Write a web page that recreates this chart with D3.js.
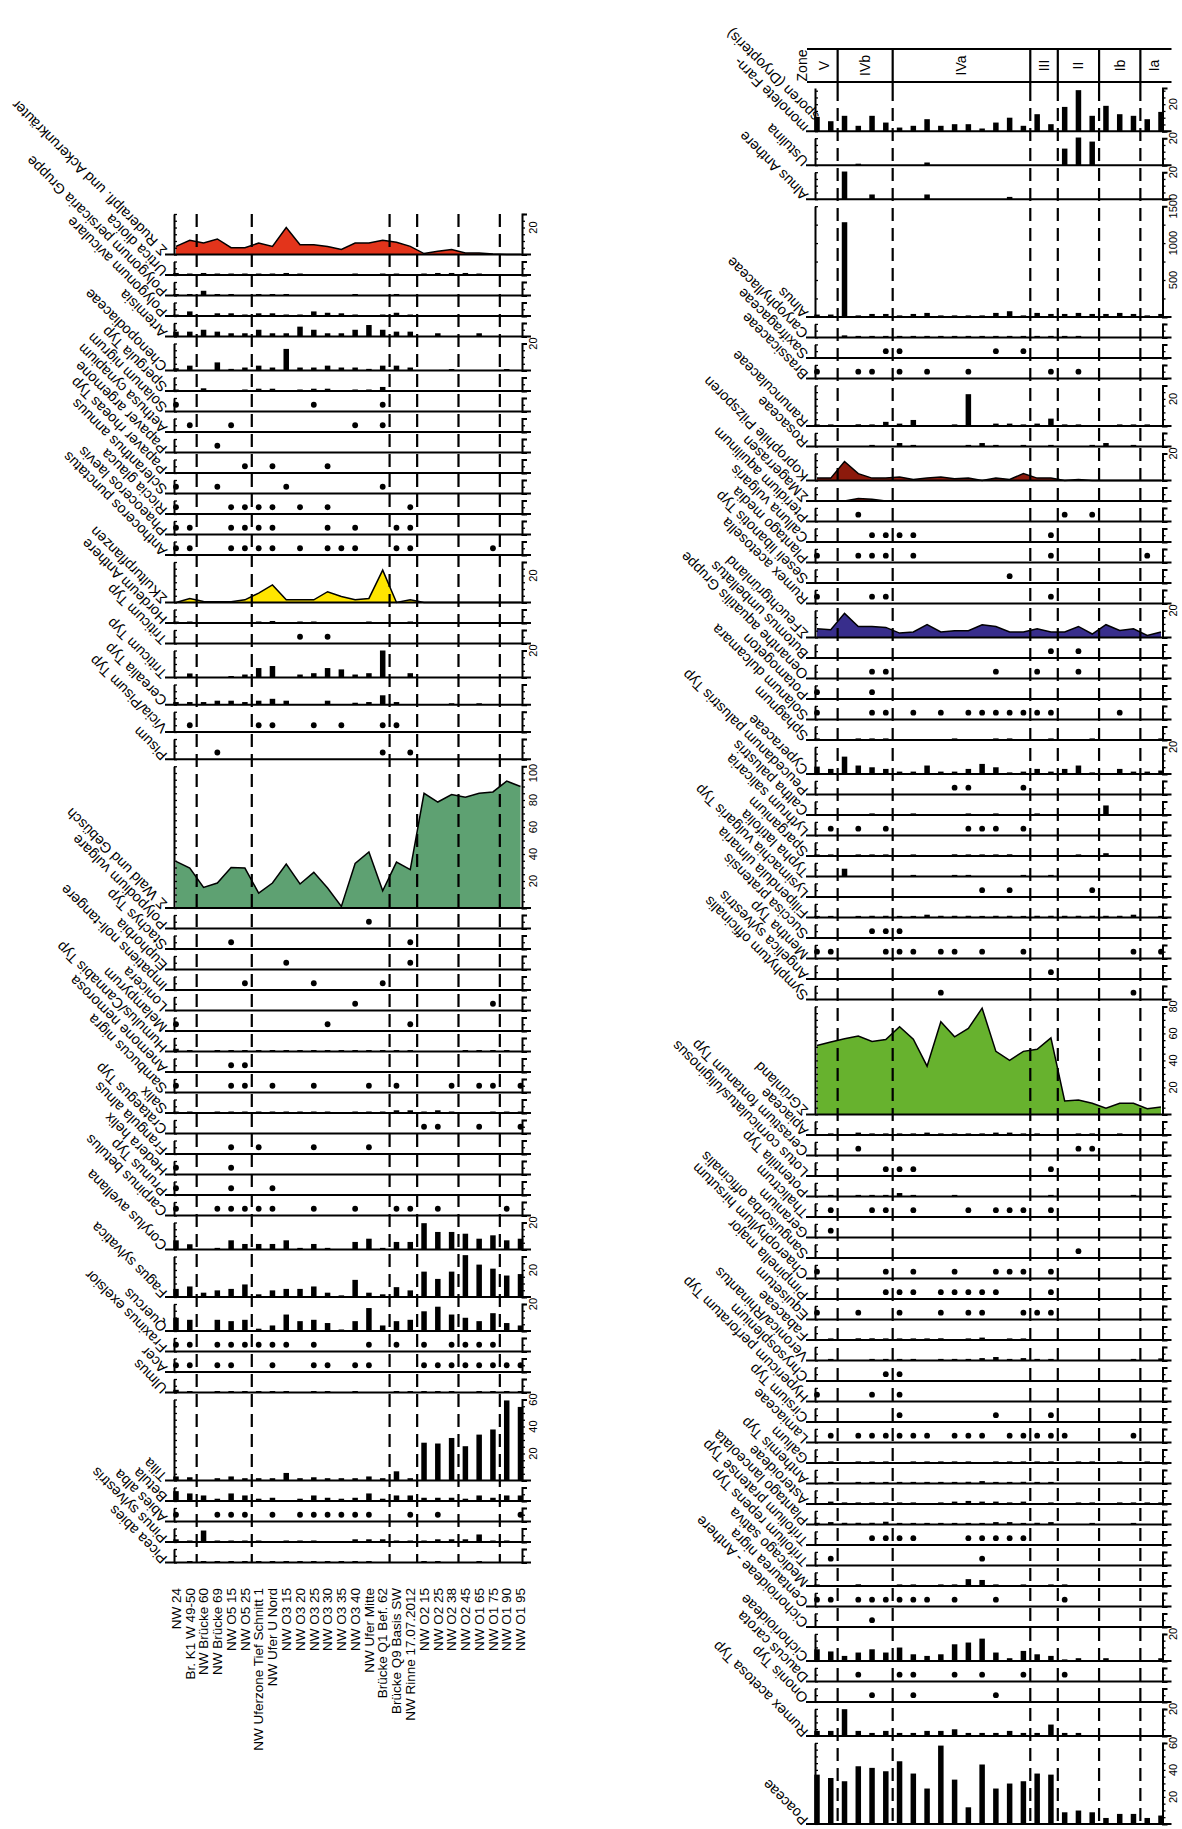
<!DOCTYPE html>
<html>
<head>
<meta charset="utf-8">
<script src="https://cdn.jsdelivr.net/npm/d3@7"></script>
<style>
  body { margin: 0; background: #fff; }
  text { font-family: "Liberation Sans", Arial, sans-serif; fill: #000; }
  .ax path, .ax line { stroke: #000; }
  .ax path { stroke-width: 2; }
  .ax line { stroke-width: 1.3; }
</style>
</head>
<body>
<svg id="chart"></svg>
<script>
// samples (same order in both panels)
var samples = ["NW 24", "Br. K1 W 49-50", "NW Brücke 60", "NW Brücke 69", "NW O5 15", "NW O5 25",
  "NW Uferzone Tief Schnitt 1", "NW Ufer U Nord", "NW O3 15", "NW O3 20", "NW O3 25", "NW O3 30",
  "NW O3 35", "NW O3 40", "NW Ufer Mitte", "Brücke Q1 Bef. 62", "Brücke Q9 Basis SW", "NW Rinne 17.07.2012",
  "NW O2 15", "NW O2 25", "NW O2 38", "NW O2 45", "NW O1 65", "NW O1 75", "NW O1 90", "NW O1 95"];

var zoneNames = ["V", "IVb", "IVa", "III", "II", "Ib", "Ia"];
var zoneFirst = [0, 2, 6, 16, 18, 21, 24];   // first sample of each zone

// ---- left diagram ----
// kinds: a = area, b = bars, d = dots (values for d = sample indices)
var leftNames = ["Σ Ruderalpfl. und Ackerunkräuter", "Urtica dioica", "Polygonum persicaria Gruppe",
  "Polygonum aviculare", "Artemisia", "Chenopodiaceae", "Spergula Typ", "Solanum nigrum",
  "Aethusa cynapium", "Papaver argemone", "Papaver rhoeas Typ", "Scleranthus annuus", "Riccia glauca",
  "Phaeoceros laevis", "Anthoceros punctatus", "ΣKulturpflanzen", "Hordeum Anthere", "Triticum Typ",
  "Triticum Typ", "Cerealia Typ", "Vicia/Pisum Typ", "Pisum", "Σ Wald und Gebüsch", "Polypodium vulgare",
  "Stachys Typ", "Euphorbia", "Impatiens noli-tangere", "Lonicera", "Melampyrum", "Humulus/Cannabis Typ",
  "Anemone nemorosa", "Sambucus nigra", "Salix", "Crataegus Typ", "Frangula alnus", "Hedera helix",
  "Prunus Typ", "Carpinus betulus", "Corylus avellana", "Fagus sylvatica", "Quercus", "Fraxinus exelsior",
  "Acer", "Ulmus", "Tilia", "Betula", "Abies alba", "Pinus sylvestris", "Picea abies"];

var leftKinds = ["a", "b", "b", "b", "b", "b", "b", "d", "d", "d", "d", "d", "d", "d", "d",
  "a", "b", "d", "b", "b", "d", "d", "a", "d", "d", "d", "d", "d", "d", "b", "d", "d", "b",
  "d", "d", "d", "d", "d", "b", "b", "b", "d", "d", "b", "b", "b", "d", "b", "b"];

var leftMax = [30, 10, 10, 10, 10, 20, 10, 10, 10, 10, 10, 10, 10, 10, 10,
  30, 10, 10, 20, 15, 15, 15, 105, 10, 10, 10, 10, 10, 10, 10, 10, 10, 10,
  10, 10, 10, 10, 10, 20, 30, 20, 10, 10, 10, 60, 10, 10, 10, 10];

var leftValues = [
  [6, 10.5, 8.5, 11.5, 5, 5, 8.5, 6, 20, 7.3, 7.3, 6, 3.7, 8.5, 8.5, 10.5, 9, 6, 0.7, 2.4, 3.7, 1.2, 1.2, 0.3, 0, 0],
  [1.5, 0.4, 1.5, 0.4, 0.4, 0.4, 0.4, 0.4, 1.5, 0.4, 0, 0, 0, 0.4, 0, 0.4, 0.4, 0, 0.4, 1.5, 1.5, 1.5, 0.4, 0, 0, 0],
  [0.4, 0.4, 3.5, 0.4, 0.4, 0, 0.4, 0.4, 0.4, 0, 0, 0, 0, 0.4, 0, 0, 0.4, 0, 0, 0, 0, 0, 0, 0, 0, 0],
  [1, 3.4, 0, 2, 2, 1, 2, 2, 1, 1, 3.4, 2.4, 2, 1, 0, 1, 2.4, 1, 0, 0, 0, 0, 0, 0, 0, 0],
  [3.6, 3.6, 5, 3.6, 2.4, 2.4, 5, 2.4, 2.4, 7.3, 5, 2.4, 2.4, 5, 8.5, 5, 3.6, 3.6, 0, 2.4, 0, 0, 2.4, 0, 0, 0],
  [1.7, 3.6, 0, 6, 1.2, 2.2, 3.6, 2.2, 16, 2.2, 2.2, 3.6, 2.2, 2.2, 1.2, 3.6, 3.6, 2.2, 0, 0, 0.7, 0, 0, 0, 0.7, 0],
  [1, 0, 2, 0, 0, 0.4, 1.7, 1.7, 0, 0.4, 1.7, 1.7, 0, 0.4, 0.4, 3, 0, 0, 0, 0, 0, 0, 0, 0, 0, 0],
  [0, 10, 15],
  [1, 4, 13, 15],
  [3],
  [5, 7, 11],
  [0, 3, 8, 15],
  [0, 4, 5, 6, 7, 9, 11, 17],
  [0, 1, 4, 5, 6, 7, 11, 13, 16, 17],
  [0, 1, 4, 5, 6, 7, 9, 11, 12, 13, 16, 17, 23],
  [0, 3, 0.7, 0.5, 0.5, 2, 7, 13, 2, 2, 2, 8, 4.4, 2, 3, 24, 0, 2, 0, 0, 0, 0, 0, 0, 0, 0],
  [0.4, 0.4, 0, 0, 0, 0, 0.4, 1.5, 0, 0.4, 0.4, 0, 0, 0, 0.4, 0, 0, 0.4, 0, 0, 0, 0, 0, 0, 0, 0],
  [9, 11],
  [0, 3, 0, 0, 0.5, 2.2, 7, 8.5, 0, 2.2, 3.2, 7, 6, 2.2, 3.2, 20, 0, 3.2, 0, 0, 0, 0, 0, 0, 0, 0],
  [2, 2, 2, 3, 3, 2, 3, 4.4, 3, 0, 0, 3, 0, 1.5, 2, 7, 2, 0, 0, 0, 0.5, 0, 0.5, 0, 0, 0],
  [1, 6, 7, 10, 12, 15, 16],
  [3, 15, 17],
  [34.5, 29.6, 15.3, 18.5, 30, 29.6, 11, 18.5, 32.6, 17.8, 26.4, 14.8, 1.2, 33, 41.5, 12.8, 34, 28.4, 85, 78.5, 84, 82, 85, 86, 94, 90],
  [14],
  [4, 17],
  [8, 17],
  [5, 10, 15],
  [13, 23],
  [0, 11, 17],
  [2, 1, 0, 0.4, 1, 1, 0.4, 1, 1, 1, 1, 0.4, 0.4, 1, 1, 1, 1, 1, 0, 0, 0, 1, 1, 1, 1, 0],
  [4, 5],
  [0, 4, 5, 7, 10, 14, 16, 20, 22, 23, 25],
  [1, 1, 0, 1, 1, 1, 1, 1, 1, 1, 1, 1, 0, 1, 1, 1, 2, 2, 1, 2, 1, 0, 0, 1, 1, 1],
  [18, 19, 22, 25],
  [4, 6, 10, 14],
  [0, 4],
  [0, 4, 7],
  [0, 3, 4, 5, 6, 7, 10, 13, 16, 17, 19, 24],
  [6.8, 3.9, 0, 1.2, 6.8, 4.1, 4.1, 4.1, 6.8, 1.2, 4.1, 1.2, 0, 5.6, 8, 1.2, 5.6, 5.6, 19.5, 13, 13, 11.7, 8, 10.5, 6.8, 8],
  [6, 7.8, 3.2, 4.9, 6, 9.3, 2, 4.9, 6, 6, 7.8, 3.2, 1.2, 12.7, 3.2, 2, 7.3, 4.9, 18.8, 13.4, 18.8, 31, 24, 21, 15.9, 17],
  [9.8, 8.3, 0, 8.3, 7.3, 8.3, 1.7, 4.1, 12.2, 7.3, 8.3, 5.9, 1, 7.3, 17, 4.1, 7.3, 8.3, 14.6, 18, 12.2, 9.8, 7.3, 13.2, 5.9, 4.1],
  [0, 1, 3, 4, 5, 6, 7, 8, 10, 14, 16, 18, 20, 21, 22, 23],
  [0, 1, 3, 4, 7, 10, 11, 13, 14, 18, 19, 20, 21, 22, 23, 24, 25],
  [2, 0.5, 0, 0.5, 0.5, 0.5, 0.5, 0.5, 1, 0, 0.5, 1, 0, 0.5, 0, 0, 0.5, 0.5, 1, 1, 1, 0, 1, 0.5, 1, 0.5],
  [3, 2.4, 0, 1.7, 3, 1.7, 1.7, 1.7, 5.6, 1.7, 2.4, 1.7, 1.7, 1.7, 3, 1.7, 6.8, 1.7, 28, 27.4, 31.5, 25.4, 34, 37.8, 59.3, 54.5],
  [7.3, 5.6, 4.1, 1.7, 5.6, 4.1, 1.7, 2.4, 0, 1.7, 4.1, 2.4, 1.7, 2.4, 5.6, 1.7, 4.1, 4.1, 2.4, 2.4, 2.4, 1.7, 4.1, 2.4, 4.1, 4.1],
  [0, 3, 4, 5, 7, 9, 10, 11, 12, 13, 14, 17, 19, 25],
  [2, 0.7, 8.5, 0.7, 0.7, 0.7, 0.7, 0, 0.7, 0.7, 0.7, 0, 0, 2, 2, 2, 0.7, 0.7, 0.7, 2, 2, 2, 5.6, 0.7, 0.7, 0],
  [0, 0.4, 0.4, 0.4, 0.4, 0.4, 0.4, 0.4, 0.4, 0.4, 0.4, 0.4, 0.4, 0.4, 0.4, 0, 0, 0, 0.4, 0.4, 0, 0, 0.4, 0, 0, 0]
];

// ---- right diagram ----
var rightNames = ["monolete Farn-\nsporen (Dryopteris)", "Ustulina", "Alnus Anthere", "Alnus",
  "Caryophyllaceae", "Saxifragaceae", "Brassicaceae", "Ranunculaceae", "Rosaceae",
  "Koprophile Pilzsporen", "ΣMagerrasen", "Pteridium aquilinum", "Calluna vulgaris", "Plantago media",
  "Seseli libanotis Typ", "Rumex acetosella", "ΣFeuchtgrünland", "Butomus umbellatus",
  "Oenanthe aquatilis Gruppe", "Potamogeton", "Solanum dulcamara", "Sphagnum", "Cyperaceae",
  "Peucedanum palustris Typ", "Caltha palustris", "Lythrum salicaria", "Sparganium", "Typha latifolia",
  "Lysimachia vulgaris Typ", "Filipendula ulmaria", "Succisa pratensis", "Mentha Typ",
  "Angelica sylvestris", "Symphytum officinalis", "ΣGrünland", "Apiaceae", "Cerastium fontanum Typ",
  "Lotus corniculatus/uliginosus", "Potentilla Typ", "Thalictrum", "Geranium", "Sanguisorba officinalis",
  "Chaerophyllum hirsutum", "Pimpinella major", "Equisetum", "Fabaceae", "Veronica/Rhinantus",
  "Chrysosplenium", "Hypericum perforatum Typ", "Cirsium Typ", "Lamiaceae", "Galium", "Anthemis Typ",
  "Asteroideae", "Plantago lanceolata", "Trifolium pratense Typ", "Trifolium repens Typ",
  "Medicago sativa", "Centaurea nigra", "Cichorioideae - Anthere", "Cichorioideae", "Daucus carota",
  "Ononis Typ", "Rumex acetosa Typ", "Poaceae"];

var rightKinds = ["b", "b", "b", "b", "b", "d", "d", "b", "b", "a", "a", "d", "d", "d", "d", "d",
  "a", "d", "d", "d", "d", "b", "b", "d", "b", "d", "b", "b", "d", "b", "d", "d", "d", "d",
  "a", "b", "d", "d", "b", "d", "d", "d", "d", "d", "d", "b", "b", "d", "d", "d", "d",
  "b", "b", "b", "b", "d", "d", "b", "d", "d", "b", "d", "d", "b", "b"];

var rightMax = [32, 20, 20, 1500, 10, 10, 10, 30, 10, 20, 10, 10, 10, 10, 10, 10,
  20, 10, 10, 10, 10, 10, 20, 10, 10, 10, 10, 10, 10, 10, 10, 10, 10, 10,
  80, 10, 10, 10, 10, 10, 10, 10, 10, 10, 10, 10, 10, 10, 10, 10, 10,
  10, 10, 10, 10, 10, 10, 10, 10, 10, 20, 10, 10, 20, 60];

var rightValues = [
  [10.6, 7.4, 11.4, 4, 11.4, 6.4, 2.7, 4, 8.9, 4, 5.2, 5.2, 2, 6.4, 10, 4, 12.6, 5.2, 18, 30.4, 11.4, 18.8, 12.6, 11.4, 8.9, 14.3],
  [0, 0, 0, 0.7, 0, 0, 0, 0, 2, 0, 0, 0, 0, 0, 0, 0, 0, 0, 12.3, 20.5, 17.5, 0, 0, 0, 0, 0],
  [0, 0, 20.5, 0, 3.5, 0, 0, 0, 3.5, 0, 0, 0, 0, 0, 1.7, 0, 0, 0, 0, 0, 0, 0, 0, 0, 0, 0],
  [32, 32, 1283, 18, 40, 40, 18, 40, 54, 18, 18, 18, 18, 54, 77, 18, 54, 40, 40, 54, 40, 40, 54, 40, 18, 40],
  [0, 0, 1.5, 0.4, 0.4, 0.4, 0.4, 0.4, 0.4, 0.4, 0.4, 0.4, 0.4, 0.4, 0.4, 0.4, 0.4, 0.4, 0.4, 0.4, 0, 0, 0, 0, 0, 0],
  [5, 6, 13, 15],
  [0, 3, 4, 6, 8, 11, 17, 19],
  [0.7, 0.7, 0, 1.2, 0.7, 3, 1.7, 4.4, 0, 0, 0.7, 23.5, 0, 1.7, 1.7, 0.7, 1.7, 5.4, 0.7, 0.7, 0, 0, 0.7, 0.7, 0.7, 0],
  [0, 0, 0, 0, 0.7, 0, 2.5, 0.7, 0, 0, 0, 0.7, 2.5, 0.7, 0, 0.7, 0, 0.7, 0, 0, 0.7, 2.5, 0, 0.7, 0, 0],
  [1.7, 1.7, 14, 5, 1.7, 1.7, 2.5, 0.7, 1.7, 2.5, 1.2, 1.7, 0, 1.7, 0.7, 5, 1.7, 1.7, 0, 0.7, 0, 0, 0, 0, 0, 0],
  [0, 0, 0, 1.7, 1.2, 0, 0, 0, 0, 0, 0, 0, 0, 0, 0, 0, 0, 0, 0, 0, 0, 0, 0, 0, 0, 0],
  [3, 18, 20],
  [4, 5, 6, 7, 17],
  [0, 3, 4, 5, 7, 17, 24],
  [14],
  [0, 4, 5, 17],
  [6.4, 5.7, 17.8, 8.1, 8.1, 7.4, 3.2, 4, 9.4, 4, 4.9, 4.9, 9.4, 8.1, 4, 4, 6.4, 4, 4, 8.1, 2.5, 9.4, 5.2, 6.4, 1.5, 4],
  [17, 19],
  [4, 5, 13, 16, 19],
  [0, 4],
  [0, 4, 5, 7, 9, 11, 12, 13, 14, 15, 16, 17, 22],
  [0.4, 0, 0, 0.4, 0.4, 0.4, 0, 0, 0, 0, 0.4, 0, 0, 0.4, 0.4, 0, 0, 0.4, 0, 0, 0.4, 0, 0, 0, 0, 0.4],
  [5.4, 3.7, 12.8, 6.2, 4.9, 3.7, 1.7, 1.7, 6.2, 1.7, 1.7, 3.7, 7.4, 4.9, 0.5, 1.7, 3.7, 1.7, 3.7, 6.2, 0.5, 0, 3.7, 1.7, 1.7, 2.5],
  [10, 11, 15],
  [0, 0, 0, 0, 0.4, 0, 0, 0.4, 0, 0, 0, 0.4, 0, 0.4, 0, 0, 0.4, 0, 0, 0, 0, 7, 0, 0, 0, 0],
  [1, 3, 5, 11, 12, 13, 15],
  [0.4, 0.4, 0, 0.4, 0.4, 0.4, 0, 0.4, 0, 0, 1.2, 0.4, 0.4, 0.4, 1.2, 0, 0, 0, 0, 0.4, 0, 2, 0, 0, 0, 0],
  [0, 0, 5.7, 0, 0, 0, 0, 0.4, 0, 0, 0.4, 0.4, 0, 0, 0, 0.4, 0, 0.4, 0, 0, 0, 0, 0, 0, 0, 0],
  [12, 14, 20],
  [0.7, 0.7, 0, 0.7, 1.2, 1.2, 0.7, 0.7, 2, 1.2, 1.2, 1.2, 0.7, 1.2, 1.2, 0.7, 1.2, 1.2, 1.2, 1.2, 1.2, 1.2, 1.2, 2, 0, 0.7],
  [4, 5, 6],
  [0, 1, 5, 6, 7, 9, 10, 12, 15, 23, 25],
  [17],
  [9, 23],
  [51, 53.7, 56, 58, 54, 55.5, 65, 55.7, 35.7, 68.7, 57.5, 63.7, 78.7, 46.7, 40, 46.7, 48.2, 56.7, 10, 10.7, 8.2, 4.5, 8.2, 8.2, 4.2, 5.5],
  [0, 0.4, 0, 1.7, 0.4, 0.4, 0.4, 0.4, 1.7, 0.4, 0.4, 0.4, 0.4, 1.7, 1.7, 0.4, 0.4, 0, 0, 0.4, 0.4, 0, 0.4, 0, 0, 0],
  [3, 19, 20],
  [5, 6, 7, 17],
  [0, 0.4, 0, 0.4, 0.4, 0.4, 2.5, 0.4, 0, 0, 0.4, 0, 0, 0, 0, 0, 0, 0.4, 0, 0, 0, 0, 0, 0.4, 0, 0],
  [1, 4, 5, 7, 11, 13, 14, 15, 17],
  [1],
  [19],
  [0, 5, 7, 10, 13, 14, 15, 17],
  [5, 6, 7, 9, 10, 11, 12, 13, 17],
  [0, 3, 6, 9, 11, 12, 15, 16, 17],
  [0, 0.4, 0, 1.2, 1.2, 0.4, 0.4, 0.4, 0.4, 1.2, 0, 0.4, 1.7, 0, 0.4, 0.4, 0, 0, 0, 0, 0, 0, 0, 0, 0, 0],
  [0, 1, 0, 0, 1, 1, 1, 1, 0, 1, 1, 1, 1.7, 2.5, 1, 1.7, 1, 1, 0, 0, 0, 0, 0, 1, 0, 1.5],
  [5, 6],
  [0, 4, 6],
  [6, 13, 17],
  [1, 3, 4, 5, 6, 7, 8, 10, 11, 12, 14, 15, 16, 17, 18, 23],
  [0, 0.4, 0, 0.4, 0.4, 0.4, 0, 0.4, 0.4, 0.4, 0.4, 0.4, 0, 0.4, 0.4, 0.4, 0.4, 0.4, 0, 0.4, 0.4, 0, 0.4, 0, 0.4, 0],
  [0, 0.4, 0, 0.4, 0.4, 0.4, 0.4, 0.4, 0.4, 0.4, 0.4, 1.2, 1.7, 0.4, 0.4, 1.2, 0.4, 0.4, 0, 0, 0, 0, 0, 0, 0, 0],
  [0, 1.7, 1, 0.4, 1, 1, 1, 0.4, 0, 1, 1.7, 2.2, 1.7, 1.7, 0.4, 1.7, 0, 0.4, 0, 0.3, 0.3, 0, 0.3, 0.3, 0.3, 0.3],
  [1.2, 1.7, 1.2, 1.2, 1.2, 2, 1, 0.4, 1, 1, 1, 0.4, 0.4, 1.7, 1.7, 0.4, 1.2, 1.7, 0, 0, 0.4, 0, 0, 0.4, 0, 0],
  [4, 5, 6, 7, 11, 12, 13, 14, 15],
  [1, 12],
  [0.4, 0, 0, 1.2, 0, 0, 0.4, 0.4, 0, 0.4, 0.4, 5, 4.4, 0.4, 0, 0.4, 0, 0.4, 0.4, 0, 0, 0, 0, 0, 0, 0],
  [0, 1, 3, 4, 5, 6, 7, 8, 10, 13, 18],
  [4],
  [8.6, 7, 3.7, 6.2, 8.6, 6.2, 9.9, 4.9, 3.7, 4.9, 12.3, 13.6, 16.5, 6.2, 2, 7.4, 4.9, 3.7, 0.7, 2, 0, 2, 0, 0, 0, 2],
  [3, 6, 7, 10, 12, 15, 18],
  [4, 7, 13],
  [3.7, 3.7, 19.8, 3.7, 2.2, 3.7, 2.2, 2.2, 3.7, 3.7, 4.9, 2.2, 2.2, 2.2, 3.7, 2.2, 2.2, 8.4, 2.2, 2.2, 0, 0, 0, 0, 0, 0],
  [36.5, 34, 31.6, 42.7, 41.5, 39, 46.4, 37.3, 26.2, 58, 32.8, 12.3, 44, 26.2, 29.9, 31.6, 37.3, 36.5, 8.6, 9.9, 8.6, 4.4, 7.4, 7.4, 4.4, 6.2]
];

// styles / special strips
var areaFill = {
  "Σ Ruderalpfl. und Ackerunkräuter": "#e3341b",
  "ΣKulturpflanzen": "#ffe500",
  "Σ Wald und Gebüsch": "#5ea172",
  "Koprophile Pilzsporen": "#8c1a0c",
  "ΣMagerrasen": "#8c1a0c",
  "ΣFeuchtgrünland": "#382e8c",
  "ΣGrünland": "#67b22e"
};
var stripSize = { "Alnus": 82 };      // strip height in % units when the scale differs
var tickStep = { "Alnus": 250 };
var labelStep = { "Alnus": 500 };

var k = 1.35, gap = 7;                // px per percent, space between strips
var W = 1182, H = 1829;

var svg = d3.select('#chart').attr('width', W).attr('height', H);

function drawPanel(p) {
  var x = d3.scalePoint().domain(d3.range(samples.length)).range([p.x0, p.x1]);
  var axisL = p.x0 - 2, axisR = p.x1 + 1.5;
  var g = svg.append('g');
  var marks = g.append('g');
  var cursor = p.top;

  p.names.forEach(function (name, i) {
    var size = stripSize[name] || p.max[i];
    var top = cursor, base = cursor + size * k;
    cursor = base + gap;
    var y = d3.scaleLinear().domain([0, p.max[i]]).range([base, top]);
    var s = marks.append('g');
    var vals = p.values[i];

    if (p.kinds[i] === 'a') {
      s.append('path').datum(vals)
        .attr('d', d3.area().x(function (d, j) { return x(j); }).y0(base).y1(function (d) { return y(d); }))
        .style('fill', areaFill[name]);
      s.append('path').datum(vals)
        .attr('d', d3.line().x(function (d, j) { return x(j); }).y(function (d) { return y(d); }))
        .style('fill', 'none').style('stroke', '#000').style('stroke-width', 1.5);
    } else if (p.kinds[i] === 'b') {
      var bars = vals.map(function (v, j) { return { v: v, j: j }; }).filter(function (d) { return d.v > 0; });
      s.selectAll('rect').data(bars).enter().append('rect')
        .attr('x', function (d) { return x(d.j) - 2.75; })
        .attr('width', 5.5)
        .attr('y', function (d) { return Math.min(y(d.v), base - 1.5); })
        .attr('height', function (d) { return Math.max(base - y(d.v), 1.5); })
        .style('fill', '#000');
    } else {
      s.selectAll('circle').data(vals).enter().append('circle')
        .attr('cx', function (d) { return x(d); })
        .attr('cy', y(5))
        .attr('r', 2.9)
        .style('fill', '#000');
    }

    // axes
    var st = tickStep[name] || 5;
    var tv = d3.range(0, p.max[i] + 1e-6, st);
    s.append('g').attr('class', 'ax').attr('transform', 'translate(' + axisL + ',0)')
      .call(d3.axisRight(y).tickValues(tv).tickSize(3).tickSizeOuter(0).tickFormat(''));
    s.append('g').attr('class', 'ax').attr('transform', 'translate(' + axisR + ',0)')
      .call(d3.axisRight(y).tickValues(tv).tickSize(3).tickSizeOuter(5).tickFormat(''));
    s.append('line')
      .attr('x1', axisL - 9).attr('x2', axisR + 9)
      .attr('y1', base).attr('y2', base)
      .style('stroke', '#000').style('stroke-width', 2);

    var ls = labelStep[name] || 20;
    d3.range(ls, p.max[i] + 1e-6, ls).forEach(function (v) {
      s.append('text')
        .attr('transform', 'translate(' + (axisR + 11) + ',' + y(v) + ') rotate(-90)')
        .attr('text-anchor', 'middle').attr('dy', '0.35em')
        .style('font-size', '11px').text(v);
    });

    // taxon name, slanted
    var t = s.append('text')
      .attr('transform', 'translate(' + (axisL - 6) + ',' + (base - 5) + ') rotate(-135)')
      .style('font-size', '14.5px');
    name.split('\n').forEach(function (line, li) {
      t.append('tspan').attr('x', 0).attr('dy', li ? '1.05em' : 0).text(line);
    });
  });

  var bottom = cursor - gap;

  // zone boundaries
  zoneFirst.slice(1).forEach(function (b) {
    var xm = (x(b - 1) + x(b)) / 2;
    g.append('line')
      .attr('x1', xm).attr('x2', xm).attr('y1', p.top).attr('y2', bottom)
      .style('stroke', '#000').style('stroke-width', 2.2).style('stroke-dasharray', '13,7');
  });

  if (p.zoneHeader) {
    var hTop = p.zoneHeader[0], hBot = p.zoneHeader[1];
    [hTop, hBot].forEach(function (yy) {
      g.append('line').attr('x1', axisL - 8).attr('x2', axisR + 9).attr('y1', yy).attr('y2', yy)
        .style('stroke', '#000').style('stroke-width', 2);
    });
    zoneFirst.slice(1).forEach(function (b) {
      var xm = (x(b - 1) + x(b)) / 2;
      g.append('line').attr('x1', xm).attr('x2', xm).attr('y1', hTop).attr('y2', p.top)
        .style('stroke', '#000').style('stroke-width', 2.2);
    });
    zoneNames.forEach(function (z, zi) {
      var a = zoneFirst[zi], e = zi + 1 < zoneFirst.length ? zoneFirst[zi + 1] - 1 : samples.length - 1;
      g.append('text')
        .attr('transform', 'translate(' + ((x(a) + x(e)) / 2) + ',' + ((hTop + hBot) / 2) + ') rotate(-90)')
        .attr('text-anchor', 'middle').attr('dy', '0.35em')
        .style('font-size', '14px').text(z);
    });
    g.append('text')
      .attr('transform', 'translate(' + (axisL - 13) + ',' + ((hTop + hBot) / 2) + ') rotate(-90)')
      .attr('text-anchor', 'middle').attr('dy', '0.35em')
      .style('font-size', '14px').text('Zone');
  }

  if (p.sampleLabels) {
    g.selectAll('text.sample').data(samples).enter().append('text')
      .attr('class', 'sample')
      .attr('transform', function (d, j) { return 'translate(' + x(j) + ',' + p.sampleLabels + ') rotate(-90)'; })
      .attr('text-anchor', 'end').attr('dy', '0.35em')
      .style('font-size', '13.5px')
      .text(function (d) { return d; });
  }
}

drawPanel({
  names: leftNames, kinds: leftKinds, max: leftMax, values: leftValues,
  x0: 176, x1: 520.5, top: 214, sampleLabels: 1588
});

drawPanel({
  names: rightNames, kinds: rightKinds, max: rightMax, values: rightValues,
  x0: 817, x1: 1161, top: 88, zoneHeader: [49, 82]
});
</script>
</body>
</html>
